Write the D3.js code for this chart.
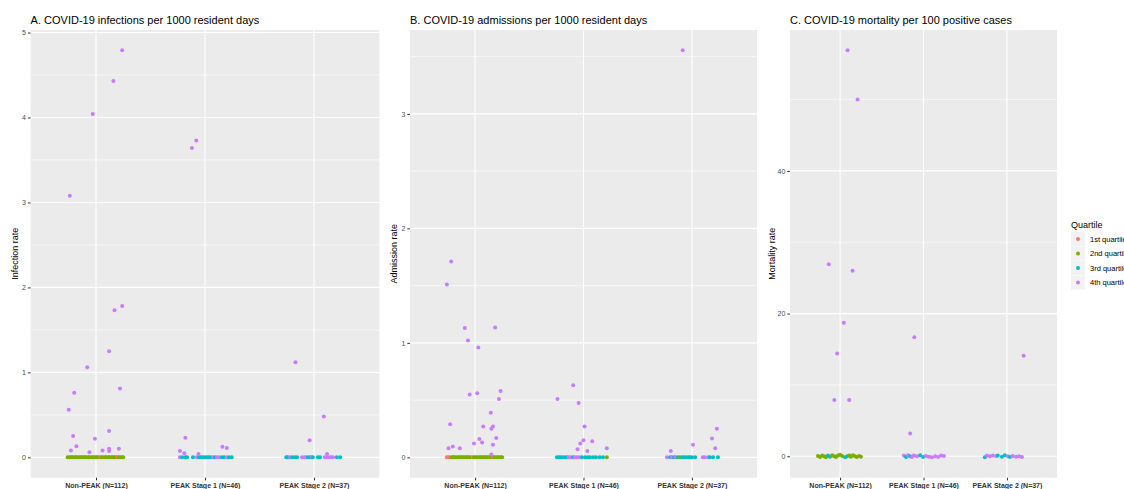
<!DOCTYPE html>
<html>
<head>
<meta charset="utf-8">
<script src="https://cdn.jsdelivr.net/npm/d3@7/dist/d3.min.js"></script>
<style>
  body { margin: 0; background: #fff; }
  svg { display: block; font-family: "Liberation Sans", Arial, sans-serif; }
</style>
</head>
<body>
<div id="chart"></div>
<script>
const groups = ["Non-PEAK (N=112)", "PEAK Stage 1 (N=46)", "PEAK Stage 2 (N=37)"];
const quartiles = ["1st quartile", "2nd quartile", "3rd quartile", "4th quartile"];
const quartileColors = ["#F8766D", "#7CAE00", "#00BFC4", "#C77CFF"];

// ---------- A. infections ----------
// [group, jitter, value] (all 4th quartile)
const infectionHigh = [
  [0, 0.24, 4.79], [0, 0.16, 4.43], [0, -0.03, 4.04], [0, -0.24, 3.08],
  [0, 0.17, 1.73], [0, 0.24, 1.78], [0, 0.12, 1.25], [0, -0.08, 1.06],
  [0, -0.20, 0.76], [0, 0.22, 0.81], [0, -0.25, 0.56], [0, -0.21, 0.25],
  [0, 0.12, 0.31], [0, -0.01, 0.22], [0, -0.18, 0.13], [0, -0.23, 0.08],
  [0, -0.06, 0.06], [0, 0.06, 0.08], [0, 0.12, 0.075], [0, 0.12, 0.10], [0, 0.21, 0.10],
  [1, -0.12, 3.64], [1, -0.08, 3.73], [1, -0.18, 0.23], [1, -0.23, 0.075],
  [1, -0.19, 0.047], [1, -0.06, 0.04], [1, 0.16, 0.126], [1, 0.20, 0.11],
  [2, -0.17, 1.12], [2, 0.09, 0.48], [2, -0.04, 0.20], [2, 0.12, 0.04]
];
// zero-valued points per group: [jitter, quartile]
const infectionZero = [
  [[-0.26,2],[-0.245,2],[-0.23,2],[-0.22,2],[-0.205,2],[-0.19,2],[-0.18,2],[-0.165,2],[-0.15,2],[-0.14,2],
   [-0.125,2],[-0.11,2],[-0.1,2],[-0.085,2],[-0.07,2],[-0.06,2],[-0.045,2],[-0.03,2],[-0.02,2],[-0.005,2],
   [0.01,2],[0.02,2],[0.04,1],[0.05,2],[0.065,2],[0.08,2],[0.09,2],[0.105,2],[0.12,2],[0.13,2],
   [0.145,2],[0.16,2],[0.17,2],[0.185,2],[0.2,1],[0.21,2],[0.225,2],[0.24,2],[0.25,2]],
  [[-0.23,4],[-0.21,3],[-0.18,3],[-0.165,3],[-0.11,3],[-0.075,4],[-0.055,3],[-0.035,3],[-0.02,3],[0,3],
   [0.02,3],[0.035,3],[0.055,3],[0.075,4],[0.09,3],[0.11,4],[0.13,4],[0.155,3],[0.175,3],[0.2,4],
   [0.22,3],[0.245,3]],
  [[-0.255,3],[-0.24,3],[-0.22,4],[-0.2,3],[-0.175,3],[-0.155,3],[-0.11,4],[-0.09,4],[-0.075,4],[-0.055,3],
   [-0.035,3],[-0.02,4],[-0.01,3],[0.035,3],[0.055,3],[0.1,4],[0.12,4],[0.14,4],[0.155,4],[0.175,4],
   [0.21,3],[0.24,3]]
];

// ---------- B. admissions ----------
const admissionHigh = [
  [0, -0.22, 1.71], [0, -0.26, 1.51], [0, -0.095, 1.13], [0, 0.185, 1.135],
  [0, -0.065, 1.02], [0, 0.03, 0.96], [0, -0.05, 0.55], [0, 0.02, 0.56],
  [0, 0.235, 0.58], [0, 0.22, 0.51], [0, 0.145, 0.39], [0, -0.23, 0.29],
  [0, 0.075, 0.27], [0, 0.165, 0.27], [0, 0.15, 0.25], [0, 0.04, 0.16],
  [0, 0.195, 0.17], [0, 0.065, 0.13], [0, -0.01, 0.12], [0, 0.165, 0.11],
  [0, -0.245, 0.08], [0, -0.205, 0.095], [0, -0.14, 0.08], [0, 0.15, 0.025],
  [1, -0.24, 0.51], [1, -0.095, 0.63], [1, -0.045, 0.475], [1, 0.01, 0.27],
  [1, 0.0, 0.15], [1, 0.08, 0.14], [1, -0.03, 0.12], [1, -0.055, 0.07],
  [1, 0.035, 0.055], [1, 0.215, 0.08],
  [2, -0.085, 3.555], [2, -0.195, 0.055], [2, 0.01, 0.11], [2, 0.23, 0.25],
  [2, 0.185, 0.165], [2, 0.215, 0.08]
];
const admissionZero = [
  [[-0.26,1],[-0.245,1],[-0.23,1],[-0.215,2],[-0.2,2],[-0.19,2],[-0.175,2],[-0.16,2],[-0.15,2],[-0.135,2],
   [-0.12,2],[-0.11,2],[-0.095,2],[-0.08,2],[-0.07,2],[-0.055,2],[-0.04,2],[-0.02,1],[-0.01,2],[0.005,2],
   [0.02,2],[0.035,2],[0.05,2],[0.06,2],[0.075,2],[0.09,2],[0.1,2],[0.115,2],[0.13,2],[0.14,2],
   [0.155,2],[0.17,1],[0.18,2],[0.195,2],[0.21,2],[0.225,2],[0.24,2],[0.25,2]],
  [[-0.245,3],[-0.225,3],[-0.21,3],[-0.19,3],[-0.17,3],[-0.15,3],[-0.135,4],[-0.115,4],[-0.095,3],[-0.08,4],
   [-0.06,4],[-0.04,4],[-0.015,3],[0.015,3],[0.04,3],[0.06,3],[0.09,3],[0.115,3],[0.15,3],[0.18,3],
   [0.215,2]],
  [[-0.23,4],[-0.2,3],[-0.185,4],[-0.165,3],[-0.15,4],[-0.13,3],[-0.11,2],[-0.09,3],[-0.075,3],[-0.055,3],
   [-0.035,3],[-0.02,3],[0,3],[0.03,3],[0.1,4],[0.12,4],[0.15,4],[0.165,3],[0.195,3],[0.24,3]]
];

// ---------- C. mortality ----------
const mortalityHigh = [
  [0, 0.09, 56.9], [0, 0.21, 50.0], [0, -0.135, 26.9], [0, 0.15, 26.0],
  [0, 0.045, 18.7], [0, -0.035, 14.4], [0, -0.07, 7.9], [0, 0.11, 7.9],
  [1, -0.11, 16.7], [1, -0.16, 3.2],
  [2, 0.2, 14.1]
];
// [jitter, quartile, value] (small vertical jitter around 0)
const mortalityZero = [
  [[-0.265,2,0.05],[-0.24,2,-0.1],[-0.215,2,0.1],[-0.19,2,0],[-0.17,2,-0.15],[-0.145,3,0.1],[-0.12,3,-0.05],
   [-0.095,2,0.15],[-0.07,2,0],[-0.05,2,-0.1],[-0.025,2,0.1],[0,2,0.2],[0.025,2,0.05],[0.06,3,-0.15],
   [0.085,3,0],[0.11,2,0.1],[0.13,2,-0.05],[0.155,2,0.15],[0.18,2,0],[0.2,2,-0.1],[0.23,2,0.05],[0.25,2,-0.05]],
  [[-0.235,4,0.1],[-0.21,3,-0.1],[-0.185,4,0.15],[-0.16,3,0],[-0.14,4,-0.1],[-0.115,4,0.1],[-0.08,4,0],
   [-0.04,3,0.15],[-0.005,3,-0.1],[0.03,4,0.05],[0.065,4,-0.05],[0.1,4,-0.15],[0.14,4,0],[0.175,4,-0.1],
   [0.21,4,0.1],[0.245,4,0.05]],
  [[-0.265,3,-0.15],[-0.24,4,0.1],[-0.205,4,0],[-0.17,4,0.1],[-0.13,4,0.05],[-0.11,3,0.1],[-0.06,3,-0.05],
   [-0.025,3,0.15],[0.01,4,0],[0.035,3,-0.1],[0.07,4,0.05],[0.11,4,-0.05],[0.145,4,0],[0.18,4,-0.1]]
];

const yTicksA = [0, 1, 2, 3, 4, 5];
const yTicksB = [0, 1, 2, 3];
const yTicksC = [0, 20, 40];

// ---------- layout ----------
const W = 1124, H = 489;
const plotTop = 30, plotBottom = 477.7;

const svg = d3.select("#chart").append("svg")
  .attr("width", W).attr("height", H);

function drawPanel(cfg) {
  const x = d3.scalePoint().domain([0, 1, 2]).range([cfg.left, cfg.right]).padding(0.6);
  const step = x.step();

  const allVals = cfg.high.map(d => d[2])
    .concat(cfg.zero.flat().map(d => d.length > 2 ? d[2] : 0));
  const [lo, hi] = d3.extent(allVals);
  const pad = (hi - lo) * 0.05;
  const y = d3.scaleLinear().domain([lo - pad, hi + pad]).range([plotBottom, plotTop]);

  const g = svg.append("g");

  // panel background
  g.append("rect")
    .attr("x", cfg.left).attr("y", plotTop)
    .attr("width", cfg.right - cfg.left).attr("height", plotBottom - plotTop)
    .attr("fill", "#EBEBEB");

  // minor grid (midpoints of major ticks)
  const tk = cfg.ticks;
  const st = tk[1] - tk[0];
  const minor = [];
  for (let i = 0; i <= tk.length; i++) {
    const m = tk[0] + st * (i - 0.5);
    if (m > y.domain()[0] && m < y.domain()[1]) minor.push(m);
  }
  g.selectAll("line.minor").data(minor).enter().append("line")
    .attr("x1", cfg.left).attr("x2", cfg.right)
    .attr("y1", d => y(d)).attr("y2", d => y(d))
    .attr("stroke", "#fff").attr("stroke-width", 0.55);

  // major grid
  g.selectAll("line.majy").data(tk).enter().append("line")
    .attr("x1", cfg.left).attr("x2", cfg.right)
    .attr("y1", d => y(d)).attr("y2", d => y(d))
    .attr("stroke", "#fff").attr("stroke-width", 1.1);
  g.selectAll("line.majx").data([0, 1, 2]).enter().append("line")
    .attr("x1", d => x(d)).attr("x2", d => x(d))
    .attr("y1", plotTop).attr("y2", plotBottom)
    .attr("stroke", "#fff").attr("stroke-width", 1.1);

  // axes
  const ya = g.append("g").attr("transform", `translate(${cfg.left},0)`)
    .call(d3.axisLeft(y).tickValues(tk).tickFormat(d3.format("d")).tickSize(2.7).tickPadding(2));
  ya.select(".domain").remove();
  ya.selectAll("line").attr("stroke", "#333");
  ya.selectAll("text").attr("fill", "#4D4D4D").style("font-size", "7px");

  const xa = g.append("g").attr("transform", `translate(0,${plotBottom})`)
    .call(d3.axisBottom(x).tickFormat(i => groups[i]).tickSize(2.7).tickPadding(2.5));
  xa.select(".domain").remove();
  xa.selectAll("line").attr("stroke", "#333");
  xa.selectAll("text").attr("fill", "#333").style("font-size", "7px").style("font-weight", "bold");

  // titles
  g.append("text")
    .attr("x", cfg.left).attr("y", 24)
    .style("font-size", "11px").attr("fill", "#000")
    .text(cfg.title);
  g.append("text")
    .attr("transform", `translate(${cfg.ylabX},${(plotTop + plotBottom) / 2}) rotate(-90)`)
    .attr("text-anchor", "middle")
    .style("font-size", "9px").attr("fill", "#000")
    .text(cfg.ylab);

  // points: zero rows first, then elevated ones
  const pts = [];
  cfg.zero.forEach((row, gi) => row.forEach(d => pts.push({ g: gi, j: d[0], q: d[1], v: d.length > 2 ? d[2] : 0 })));
  cfg.high.forEach(d => pts.push({ g: d[0], j: d[1], v: d[2], q: 4 }));

  g.selectAll("circle").data(pts).enter().append("circle")
    .attr("cx", d => x(d.g) + d.j * step)
    .attr("cy", d => y(d.v))
    .attr("r", 2)
    .attr("fill", d => quartileColors[d.q - 1]);
}

drawPanel({
  title: "A. COVID-19 infections per 1000 resident days", ylab: "Infection rate",
  left: 30.6, right: 379.4, ylabX: 18, ticks: yTicksA,
  high: infectionHigh, zero: infectionZero
});
drawPanel({
  title: "B. COVID-19 admissions per 1000 resident days", ylab: "Admission rate",
  left: 410, right: 757, ylabX: 396.5, ticks: yTicksB,
  high: admissionHigh, zero: admissionZero
});
drawPanel({
  title: "C. COVID-19 mortality per 100 positive cases", ylab: "Mortality rate",
  left: 790, right: 1057, ylabX: 774.5, ticks: yTicksC,
  high: mortalityHigh, zero: mortalityZero
});

// legend (labels run past the right edge, as in the source image)
const leg = svg.append("g").attr("transform", "translate(1071,0)");
leg.append("text").attr("x", 0).attr("y", 227.5)
  .style("font-size", "9px").attr("fill", "#000").text("Quartile");
const item = leg.selectAll("g.item").data(quartiles).enter().append("g")
  .attr("class", "item")
  .attr("transform", (d, i) => `translate(0,${232 + i * 14.5})`);
item.append("rect").attr("width", 14).attr("height", 14).attr("fill", "#F2F2F2");
item.append("circle").attr("cx", 7).attr("cy", 7).attr("r", 2)
  .attr("fill", (d, i) => quartileColors[i]);
item.append("text").attr("x", 19).attr("y", 9.6)
  .style("font-size", "7.5px").attr("fill", "#000").text(d => d);
</script>
</body>
</html>
